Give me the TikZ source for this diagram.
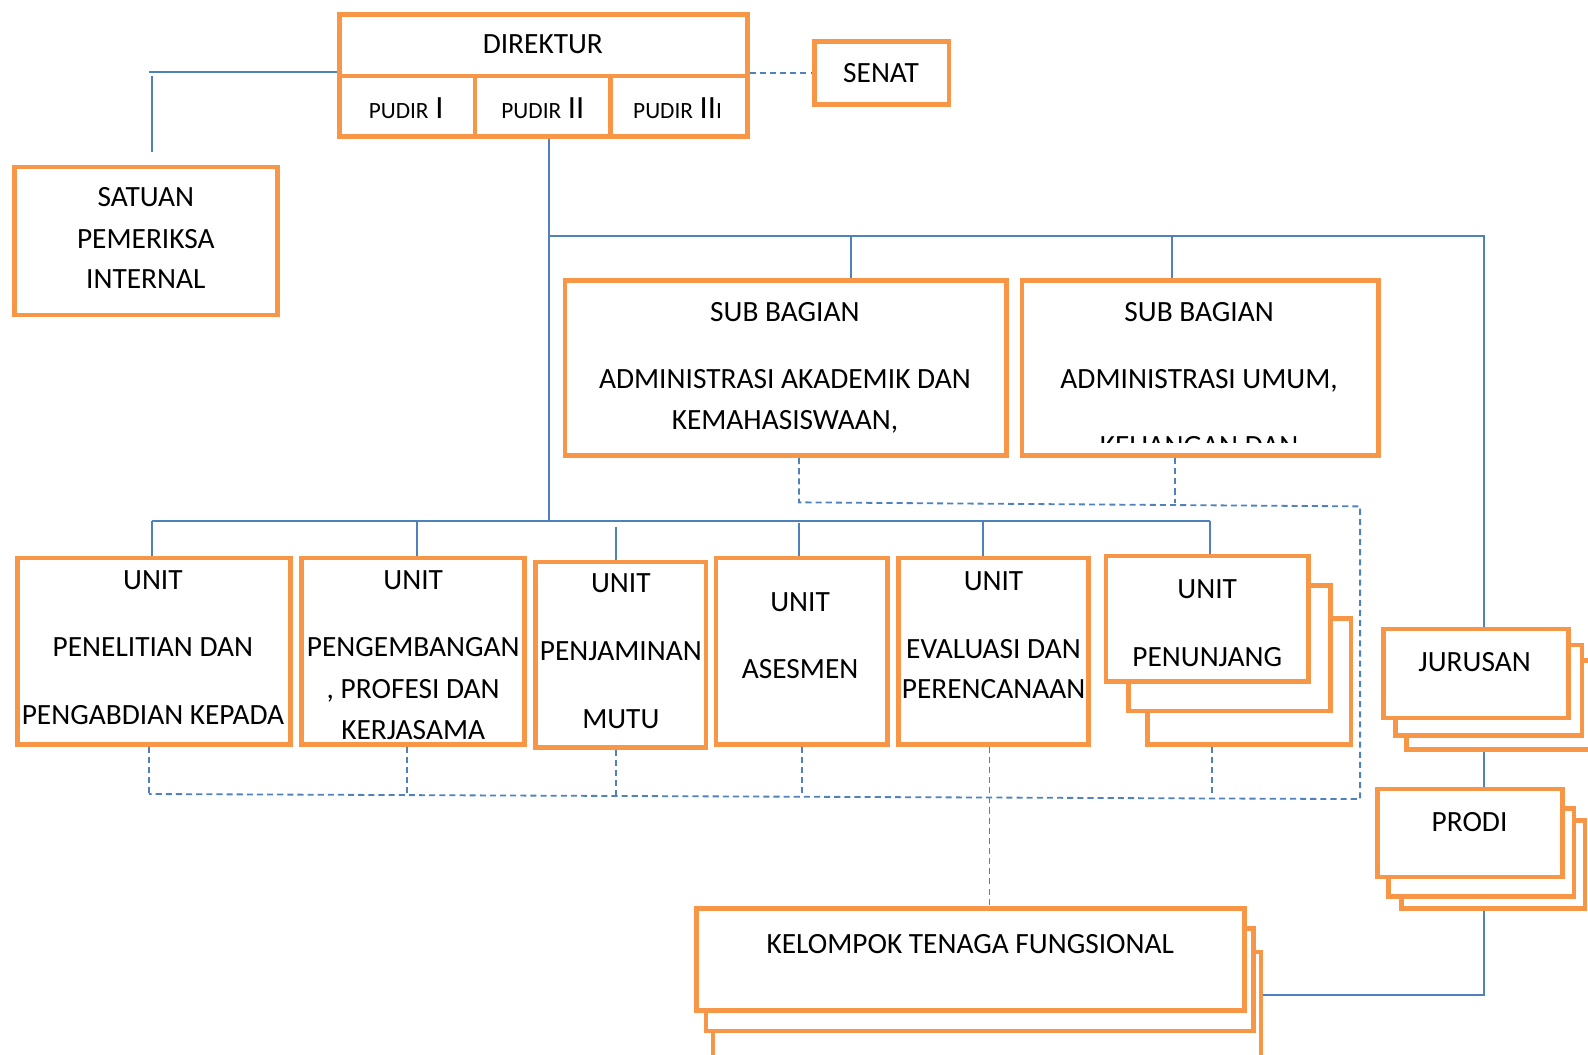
\documentclass[tikz,border=0pt]{standalone}
\usepackage{fontspec}
\setmainfont{Carlito}
\usetikzlibrary{fit}
\definecolor{orgline}{HTML}{F79646}
\definecolor{blueline}{HTML}{4F81BD}
\tikzset{
  ob/.style={draw=orgline, line width=2.3pt, fill=white, inner sep=0pt},
  bl/.style={draw=blueline, line width=1pt},
  bd/.style={draw=blueline, line width=0.9pt, dash pattern=on 3pt off 2pt},
  txt/.style={anchor=base, inner sep=0pt, font=\fontsize{14.5}{16}\selectfont},
}
\newcommand\PU{\fontsize{11.5}{14}\selectfont}
\newcommand\PB{\fontsize{16}{18}\selectfont}
\begin{document}
\begin{tikzpicture}[x=0.5pt,y=-0.5pt]
\useasboundingbox (0,0) rectangle (1568,1041);
% --- boxes
\node[ob, fit={(335,14) (738,75)}] (dir) {};
\node[ob, fit={(335,75) (469,135)}] (p1) {};
\node[ob, fit={(469,75) (603,135)}] (p2) {};
\node[ob, fit={(603,75) (738,135)}] (p3) {};
\node[ob, fit={(804,41) (937,103)}] (senat) {};
\node[ob, fit={(14,165) (274,311)}] (spi) {};
\node[ob, fit={(558,277) (994,450)}] (sb1) {};
\node[ob, fit={(1009,277) (1361,450)}] (sb2) {};
\node[ob, fit={(17,551) (287,735)}] (u1) {};
\node[ob, fit={(298,551) (518,735)}] (u2) {};
\node[ob, fit={(529,555) (697,738)}] (u3) {};
\node[ob, fit={(707,551) (876,735)}] (u4) {};
\node[ob, fit={(887,551) (1075,735)}] (u5) {};
\node[ob, fit={(1133,611) (1334,735)}] (u6c) {};
\node[ob, fit={(1114,578) (1314,702)}] (u6b) {};
\node[ob, fit={(1092,549) (1292,673)}] (u6) {};
\node[ob, fit={(1389,652) (1590,740)}] (jurc) {};
\node[ob, fit={(1378,637) (1562,726)}] (jurb) {};
\node[ob, fit={(1366,621) (1549,709)}] (jur) {};
\node[ob, fit={(1384,810) (1565,897)}] (proc) {};
\node[ob, fit={(1371,798) (1554,885)}] (prob) {};
\node[ob, fit={(1360,779) (1543,866)}] (pro) {};
\node[ob, fit={(704,940) (1245,1070)}] (kelc) {};
\node[ob, fit={(697,917) (1238,1018)}] (kelb) {};
\node[ob, fit={(688,897) (1229,998)}] (kel) {};
% --- texts
\node[txt] (tdir) at (536,53) {DIREKTUR};
\node[txt] (tp1) at (401,117) {{\PU PUDIR} {\PB I}};
\node[txt] (tp2) at (536,117) {{\PU PUDIR} {\PB II}};
\node[txt] (tp3) at (669,117) {{\PU PUDIR} {\PB II}{\PU I}};
\node[txt] (tsenat) at (870,81) {SENAT};
\node[txt] (ts1) at (144,204) {SATUAN};
\node[txt] (ts2) at (144,245) {PEMERIKSA};
\node[txt] (ts3) at (144,285) {INTERNAL};
\node[txt] (tb1a) at (775,317) {SUB BAGIAN};
\node[txt] (tb1b) at (775,384) {ADMINISTRASI AKADEMIK DAN};
\node[txt] (tb1c) at (775,424) {KEMAHASISWAAN,};
\node[txt] (tb2a) at (1184,317) {SUB BAGIAN};
\node[txt] (tb2b) at (1184,384) {ADMINISTRASI UMUM,};
\begin{scope}
\clip (1011,279) rectangle (1359,437);
\node[txt] (tb2c) at (1184,450) {KEUANGAN DAN};
\end{scope}
\node[txt] (tu1a) at (151,582) {UNIT};
\node[txt] (tu1b) at (151,648) {PENELITIAN DAN};
\node[txt] (tu1c) at (151,715) {PENGABDIAN KEPADA};
\node[txt] (tu2a) at (408,582) {UNIT};
\node[txt] (tu2b) at (408,648) {PENGEMBANGAN};
\node[txt] (tu2c) at (408,690) {, PROFESI DAN};
\node[txt] (tu2d) at (408,730) {KERJASAMA};
\node[txt] (tu3a) at (613,585) {UNIT};
\node[txt] (tu3b) at (613,652) {PENJAMINAN};
\node[txt] (tu3c) at (613,719) {MUTU};
\node[txt] (tu4a) at (790,604) {UNIT};
\node[txt] (tu4b) at (790,670) {ASESMEN};
\node[txt] (tu5a) at (981,583) {UNIT};
\node[txt] (tu5b) at (981,650) {EVALUASI DAN};
\node[txt] (tu5c) at (981,690) {PERENCANAAN};
\node[txt] (tu6a) at (1192,591) {UNIT};
\node[txt] (tu6b) at (1192,658) {PENUNJANG};
\node[txt] (tjur) at (1456,663) {JURUSAN};
\node[txt] (tpro) at (1451,821) {PRODI};
\node[txt] (tkel) at (958,941) {KELOMPOK TENAGA FUNGSIONAL};
% --- coordinates
\coordinate (spiL) at (147,71);
\coordinate (spiT) at (150,75);
\coordinate (spiB) at (150,150);
\coordinate (m1) at (542,233);
\coordinate (m2) at (1465,233);
\coordinate (bus) at (542,514);
\coordinate (busL) at (150,514);
\coordinate (busR) at (1195,514);
\coordinate (dA) at (789,496);
\coordinate (dB) at (1160,497);
\coordinate (dC) at (1343,500);
\coordinate (dD) at (1343,789);
\coordinate (dE) at (147,784);
\coordinate (k1) at (1465,982);
% --- solid connectors
\draw[bl] (dir.west |- spiL) -- (spiL);
\draw[bl] (spiT) -- (spiB);
\draw[bl] (p2.south -| bus) -- (bus);
\draw[bl] (m1) -- (m2) -- (jur.north -| m2);
\draw[bl] (840,233) -- (sb1.north -| 840,0);
\draw[bl] (1157,233) -- (sb2.north -| 1157,0);
\draw[bl] (busL) -- (busR);
\draw[bl] (busL) -- (u1.north -| busL);
\draw[bl] (412,514) -- (u2.north -| 412,0);
\draw[bl] (608,520) -- (u3.north -| 608,0);
\draw[bl] (789,516) -- (u4.north -| 789,0);
\draw[bl] (971,514) -- (u5.north -| 971,0);
\draw[bl] (busR) -- (u6.north -| busR);
\draw[bl] (jurc.south -| m2) -- (pro.north -| m2);
\draw[bl] (proc.south -| m2) -- (k1) -- (kelc.east |- k1);
% --- dashed connectors
\draw[bd] (dir.east |- 0,72) -- (senat.west |- 0,72);
\draw[bd] (sb1.south -| dA) -- (dA) -- (dC) -- (dD) -- (dE);
\draw[bd] (sb2.south -| dB) -- (dB);
\draw[bd] (u1.south -| dE) -- (dE);
\draw[bd] (u2.south -| 402,0) -- (402,785);
\draw[bd] (u3.south -| 608,0) -- (608,785);
\draw[bd] (u4.south -| 792,0) -- (792,786);
\draw[bd] (u6c.south -| 1197,0) -- (1197,787);
\draw[bd] (u5.south -| 977,0) -- (kel.north -| 977,0);
\end{tikzpicture}
\end{document}
